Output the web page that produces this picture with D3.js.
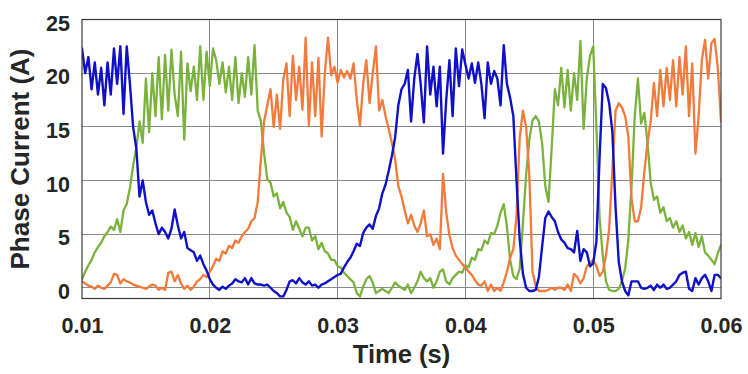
<!DOCTYPE html>
<html>
<head>
<meta charset="utf-8">
<script src="https://cdn.jsdelivr.net/npm/d3@7"></script>
<style>
  html, body { margin: 0; padding: 0; background: #ffffff; }
  svg { display: block; }
  text { font-family: "Liberation Sans", Arial, Helvetica, sans-serif; font-weight: bold; fill: #262626; }
</style>
</head>
<body>
<svg id="chart" width="748" height="374"></svg>
<script>
// ---- data ----
const sampleStart = 0.01;      // s, first sample
const sampleStep = 0.00025;    // s, sampling interval of the traces

const xTicks = [0.01, 0.02, 0.03, 0.04, 0.05, 0.06];
const yTicks = [0, 5, 10, 15, 20, 25];
const xLabel = "Time (s)";
const yLabel = "Phase Current (A)";

const phaseBlue = [
  22.3, 20, 21.5, 18.5, 21, 18, 20.5, 17, 21, 18, 22.3, 19, 22.5, 16.2, 22.5, 19, 15,
  13, 8.5, 10, 8, 6.8, 7.2, 6, 5, 5.6, 5.2, 4.6, 5.5, 7.3, 5.8, 4.6, 5.2, 3.7, 3.5, 3.3, 2.5, 3, 2.2, 1.6, 0.8, 0.3, 0, -0.2, 0.1, -0.1, 0.2, 0.4, 0.8, 0.6, 0.5,
  0.9, 0.3, 0.9, 0.4, 0.3, 0.3, 0.2, 0.3, 0, -0.3, -0.5, -0.8, -0.8, -0.2, 0.6, 0.7, 0.4, 0.9, 0.5, 0.3, 0.6, 0.2, 0.3, 0, 0.3, 0.4, 0.6, 0.8, 1, 1.2, 1.3, 1.9, 2.4, 2.8, 3.4, 4.1, 3.9, 5.1, 5.6, 5.9, 5.5, 6.7, 7.4, 8.8, 9.6, 10.9, 12.3, 14, 17, 18.5,
  19, 20.3, 15.5, 19.5, 21.8, 19, 15.4, 22.5, 18, 20.6, 16.9, 20.6, 12.5, 17.5, 21.2, 16, 22.3, 18.8, 22.2, 20.8, 19.5, 20.9, 19.1, 21, 19, 15.8, 21, 19, 20.2, 19.5, 17, 22.6, 19, 17.7, 16, 10, 4.5, 1.3, 0, -0.3, -0.3, -0.2, 1, 3.8, 6.5, 7.1, 6.6, 6.2, 5.2, 4.5,
  4.2, 3.7, 3.6, 3.3, 5.3, 2.5, 3.6, 3.3, 2, 2.3, 4.3, 12.2, 19, 18.6, 17.2, 14.5, 7.5, 2.4, 0.6, -0.3, -0.7, 0.6, 0.6, 0.6, 0, -0.1, 0, 0.2, -0.2, 0.3, 0, 0.3, -0.1, 0, 0.3, 0.6, 1.2, 1.4, 1.5, -0.1, -0.3, 0.9, 0.3, 0.9, 1.2, 0.6, -0.3, 1.2, 1.2, 0.9
];

const phaseGreen = [
  0.8, 1.5, 2.1, 2.6, 3.3, 3.8, 4.2, 4.8, 5.2, 5.7, 5.4, 6.4, 5.2, 7.2, 7.8, 9.3, 11.4, 13, 15.5, 13.5, 19.5,
  14.5, 20, 16, 21.5, 15.7, 21.7, 16.5, 22.2, 18, 16, 22, 13.8, 20.9, 18.3, 20.6, 17.5, 22.5, 17.5, 22, 18.8, 22.3, 21.2, 19, 21, 18.2, 20.6, 17.5, 21.5, 17.2, 20,
  17.8, 21.5, 18, 22.6, 16.5, 15.5, 12.5, 10.1, 9.8, 8.5, 8.8, 7.4, 8, 7, 6.6, 5.4, 6.2, 5.5, 4.8, 5.6, 5.6, 4.4, 4.8, 3.6, 4.2, 3.4, 3.2, 2.6, 2.6, 2.0, 1.9, 1.4, 1.1, 0.8, 0.5, -0.5, -0.8, 0.1, 0.8, 1.1, 0.5, -0.5, -0.3, -0.1, -0.3, -0.5, 0, 0.5, 0.2, 0,
  -0.2, 0.3, -0.5, 0, 0.6, 1.5, 0.9, 0.6, 0.9, 0, 0.6, 1.5, 1.7, 0.6, 0.3, 0.9, 1.2, 1.5, 1.4, 2.1, 1.9, 2.8, 2.6, 3.6, 3.5, 4.4, 4.1, 5.1, 5, 5.8, 7, 7.8, 5.7, 2.6, 1.1, 0.8, 1.8, 6, 10.5, 13.8, 15.6, 16, 15.5, 13.5, 9.5, 8, 13, 18.5, 17, 20.5,
  16.8, 20.3, 16.5, 20, 17.5, 23, 14.8, 19.5, 21.6, 22.5, 15, 6.5, 3, 0.6, -0.2, -0.3, -0.3, -0.1, 0.6, 1.8, 4.5, 9.5, 16, 19.5, 15.3, 16.3, 13.5, 9.8, 8.2, 8.5, 7, 7.5, 6.2, 6.5, 5.6, 6.2, 5.2, 5.8, 4.6, 5.2, 4, 5.1, 3.8, 4.8, 3.3, 3, 2.6, 2.2, 3.2, 4
];

const phaseOrange = [
  0.6, 0.4, 0.2, 0.1, -0.1, 0.2, 0, -0.1, 0.2, 0.5, 1.3, 1.2, 0.4, 0.8, 0.6, 0.5, 0.3, 0.2, 0.1, 0, -0.1, 0.1, 0.3, 0.2, -0.2, 0, -0.2, 1.4, 1.5, 0.6, 1.2, 0.4, -0.1, 0.2, -0.2, 0.1, 0.6, 0.8, 1.2, 1, 1.5,
  2.0, 2.7, 2.5, 3.4, 3.2, 3.9, 3.7, 4.4, 4.2, 4.8,
  5.2, 5.5, 6.2, 6.5, 8, 12, 15.5, 17, 18.5, 15, 18, 14.8, 19.4, 20.9, 16, 21.6, 17.5, 20.6, 16.6, 23.3, 15.1, 21, 16, 21.4, 14.1, 20, 23.3, 19.8, 20.6, 19.1, 20.3, 19.6, 20.2, 19.5, 20.9, 17.5, 15.1, 19, 21.2, 17.2, 20, 22.5, 16.5, 17.5, 16, 14.8, 13.5, 12, 9.5, 8.5,
  7.2, 6, 6.8, 5.8, 5.2, 6, 7.2, 4.8, 5, 4, 4.6, 3.6, 10.6, 7, 4.9, 3.7, 3, 2.6, 2.2, 1.9, 1.5, 1.2, 0.7, 0.3, 0.2, 0.6, -0.3, 0.3, -0.3, 0, -0.3, 0.5, 1.5, 2.8, 3.6, 6.7, 14, 16.5, 15, 10.5, 1.5, 0.2, -0.3, -0.3, -0.3, -0.2, 0, -0.2, 0, 0,
  -0.2, 0.3, -0.3, 1.3, 1, 0.4, 0.9, 2, 2.3, 2.6, 2, 1.1, 1.5, 3, 5.5, 11, 16.5, 17.2, 16.8, 16, 14.1, 8.3, 6.2, 6.2, 7.5, 10.8, 13.5, 15.5, 19.1, 16, 20.3, 16.9, 20.5, 17.5, 21.2, 16.9, 21.5, 18, 22.5, 16, 20.9, 12.5, 16, 21.2, 23.1, 19.5, 22.8, 23.2, 20.5, 15.5
];

const seriesColors = { green: "#7ab23e", orange: "#f27a3a", blue: "#1010c8" };

// ---- layout ----
const svg = d3.select("#chart");
const plot = { left: 82, right: 721, top: 19.5, bottom: 298.5 };

const x = d3.scaleLinear().domain([0.01, 0.06]).range([plot.left, plot.right]);
const y = d3.scaleLinear().domain([-1, 25]).range([plot.bottom, plot.top]);

// grid
const grid = svg.append("g").attr("stroke", "#8a8a8a").attr("stroke-width", 1).attr("shape-rendering", "crispEdges");
grid.selectAll("line.vx").data(xTicks.slice(1, -1)).join("line")
  .attr("x1", d => x(d)).attr("x2", d => x(d))
  .attr("y1", plot.top).attr("y2", plot.bottom);
grid.selectAll("line.hy").data(yTicks.slice(0, -1)).join("line")
  .attr("y1", d => y(d)).attr("y2", d => y(d))
  .attr("x1", plot.left).attr("x2", plot.right);

// traces
svg.append("clipPath").attr("id", "clip").append("rect")
  .attr("x", plot.left).attr("y", plot.top)
  .attr("width", plot.right - plot.left).attr("height", plot.bottom - plot.top);

const line = d3.line()
  .x((d, i) => x(sampleStart + i * sampleStep))
  .y(d => y(d));

const traces = svg.append("g").attr("clip-path", "url(#clip)")
  .attr("fill", "none").attr("stroke-linejoin", "round").attr("stroke-linecap", "round");
[[phaseGreen, seriesColors.green, 2.3],
 [phaseOrange, seriesColors.orange, 2.3],
 [phaseBlue, seriesColors.blue, 2.4]].forEach(([data, color, w]) => {
  traces.append("path").datum(data).attr("d", line).attr("stroke", color).attr("stroke-width", w);
});

// box
svg.append("rect")
  .attr("x", plot.left).attr("y", plot.top)
  .attr("width", plot.right - plot.left).attr("height", plot.bottom - plot.top)
  .attr("fill", "none").attr("stroke", "#3a3a3a").attr("stroke-width", 1.2);

// axes (labels only)
const xAxis = svg.append("g").attr("transform", `translate(0,${plot.bottom})`)
  .call(d3.axisBottom(x).tickValues(xTicks).tickFormat(d3.format(".2f")).tickSize(0).tickPadding(19));
const yAxis = svg.append("g").attr("transform", `translate(${plot.left},0)`)
  .call(d3.axisLeft(y).tickValues(yTicks).tickFormat(d3.format("d")).tickSize(0).tickPadding(12));
[xAxis, yAxis].forEach(a => {
  a.select(".domain").remove();
  a.selectAll("text").attr("font-size", 21.5).attr("font-weight", "bold")
    .attr("font-family", "Liberation Sans, Arial, sans-serif").attr("fill", "#262626");
});
yAxis.selectAll("text").attr("dy", "0.5em");

// axis titles
svg.append("text")
  .attr("x", (plot.left + plot.right) / 2).attr("y", 363)
  .attr("text-anchor", "middle").attr("font-size", 25.5)
  .text(xLabel);
svg.append("text")
  .attr("transform", `translate(29,${(plot.top + plot.bottom) / 2}) rotate(-90)`)
  .attr("text-anchor", "middle").attr("font-size", 26)
  .text(yLabel);
</script>
</body>
</html>
